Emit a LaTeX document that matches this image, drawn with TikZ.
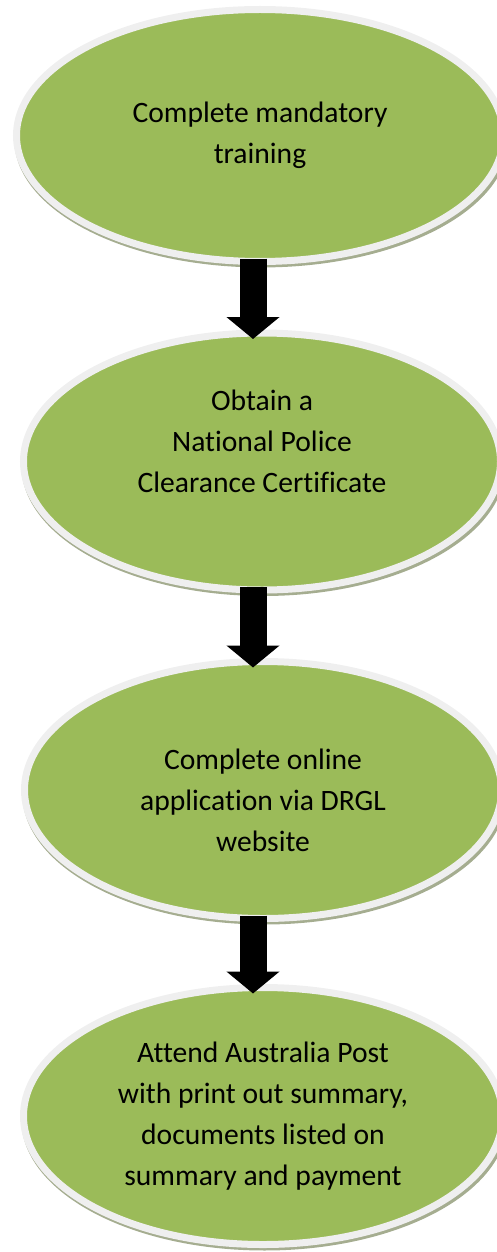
\documentclass[tikz,border=0pt]{standalone}
\usepackage{fontspec}
\setmainfont{Carlito}[Ligatures=NoCommon]
\usetikzlibrary{arrows.meta,shapes.geometric,shadows}
\definecolor{stagegreen}{HTML}{9BBB59}
\definecolor{ringgray}{HTML}{EFEFEF}
\definecolor{shadowgreen}{HTML}{A5AD90}

\begin{document}
\begin{tikzpicture}[
  x=1pt, y=-1pt,
  stage/.style = {
    ellipse, draw=ringgray, line width=7pt, fill=stagegreen,
    minimum width=477pt, minimum height=257pt, inner sep=0pt, outer sep=0pt,
    align=center, font=\fontsize{29.6}{41}\selectfont,
    drop shadow={shadow xshift=1.5pt, shadow yshift=-4pt, shadow scale=1.015,
      fill=shadowgreen, opacity=1}
  },
  blockarrow/.style = {
    line width=27pt, -{Triangle[length=22pt,width=52pt]},
    shorten <=-3pt, shorten >=-6pt
  }
  ]
  \useasboundingbox (0,0) rectangle (497,1252);
  % Stages
  \node[stage, minimum width=487pt, minimum height=252pt] (training) at (260,135.5)
    {Complete mandatory\\training};
  \node[stage] (clearance) at (262,461.5)
    {Obtain a\\National Police\\Clearance Certificate\\\mbox{}};
  \node[stage] (online) at (263,790)
    {\mbox{}\\Complete online\\application via DRGL\\website};
  \node[stage, minimum width=479pt] (post) at (263,1116)
    {Attend Australia Post\\with print out summary,\\documents listed on\\summary and payment};
  % Arrows
  \coordinate (axis) at (253,0);
  \foreach \a/\b in {training/clearance, clearance/online, online/post}
    \draw[blockarrow] (axis |- \a.south) -- (axis |- \b.north);
\end{tikzpicture}
\end{document}
